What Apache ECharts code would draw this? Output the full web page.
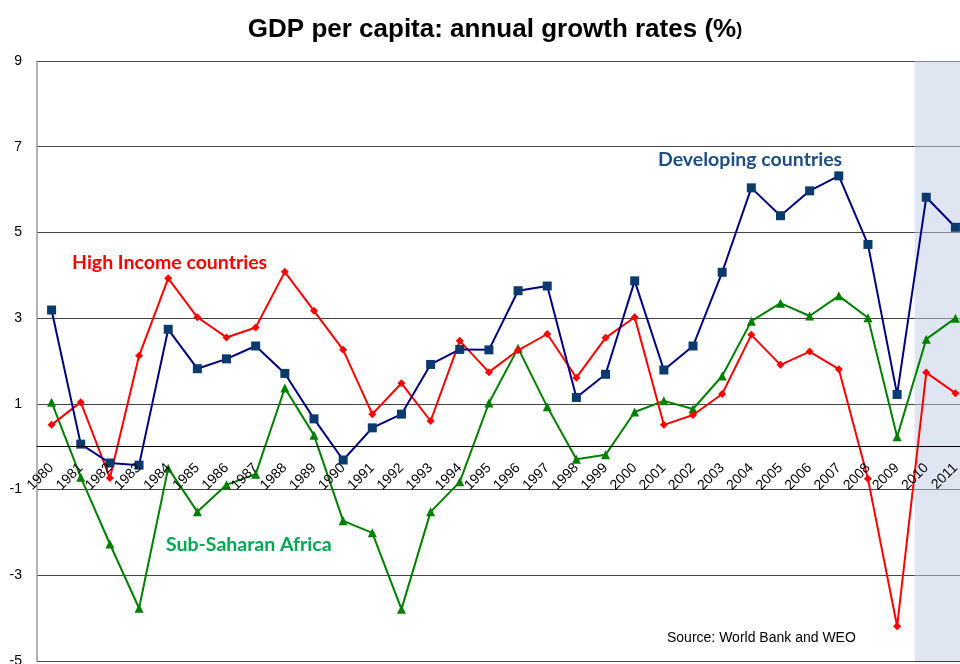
<!DOCTYPE html>
<html>
<head>
<meta charset="utf-8">
<title>GDP per capita: annual growth rates (%)</title>
<script src="https://cdn.jsdelivr.net/npm/echarts@6/dist/echarts.min.js"></script>
<style>
  html, body { margin: 0; padding: 0; background: #fff; }
  #chart { width: 960px; height: 664px; }
</style>
</head>
<body>
<div id="chart"></div>
<script>
// Years on the category axis
const years = ['1980','1981','1982','1983','1984','1985','1986','1987','1988','1989',
  '1990','1991','1992','1993','1994','1995','1996','1997','1998','1999',
  '2000','2001','2002','2003','2004','2005','2006','2007','2008','2009',
  '2010','2011'];

// Annual GDP per capita growth (%)
const developing = [3.19, 0.06, -0.38, -0.43, 2.74, 1.82, 2.05, 2.35, 1.71, 0.65,
  -0.31, 0.44, 0.76, 1.92, 2.27, 2.26, 3.64, 3.75, 1.15, 1.69,
  3.87, 1.79, 2.35, 4.07, 6.04, 5.39, 5.97, 6.32, 4.72, 1.22,
  5.82, 5.12];

const highIncome = [0.51, 1.04, -0.73, 2.12, 3.93, 3.02, 2.55, 2.78, 4.08, 3.17,
  2.26, 0.76, 1.48, 0.60, 2.47, 1.74, 2.25, 2.63, 1.61, 2.54,
  3.02, 0.51, 0.74, 1.23, 2.61, 1.91, 2.22, 1.81, -0.75, -4.19,
  1.73, 1.25];

const subSaharan = [1.04, -0.71, -2.27, -3.77, -0.50, -1.52, -0.89, -0.64, 1.37, 0.27,
  -1.73, -2.01, -3.79, -1.52, -0.82, 1.02, 2.30, 0.93, -0.29, -0.19,
  0.81, 1.07, 0.88, 1.65, 2.93, 3.35, 3.05, 3.52, 3.01, 0.23,
  2.51, 3.00];

// Value axis range
const yMin = -5, yMax = 9, yStep = 2;

// Projection period shading, in category-index units
const projectionSpan = [29.6, 31.5];

const chart = echarts.init(document.getElementById('chart'), null, { renderer: 'canvas' });

const baseFont = 'Liberation Sans, Arial, sans-serif';
const labelFont = 'Lato, "Open Sans", sans-serif';

const gridHeight = 600;
// Lift the year axis from the grid bottom up to the zero line
const zeroOffset = -gridHeight * (0 - yMin) / (yMax - yMin);

chart.setOption({
  animation: false,
  backgroundColor: '#ffffff',
  title: {
    text: 'GDP per capita: annual growth rates (%{s|)}',
    left: 490,
    textAlign: 'center',
    top: 12,
    textStyle: {
      fontFamily: baseFont,
      fontSize: 26,
      fontWeight: 'bold',
      color: '#000',
      rich: {
        s: { fontFamily: baseFont, fontSize: 18, fontWeight: 'bold', color: '#000' }
      }
    }
  },
  grid: {
    left: 37, top: 61, width: 933, height: gridHeight,
    containLabel: false,
    outerBoundsMode: 'none'
  },
  xAxis: [
    {
      type: 'category',
      data: years,
      boundaryGap: true,
      position: 'bottom',
      offset: zeroOffset,
      z: 10,
      axisLine: { show: true, onZero: false, lineStyle: { color: '#000', width: 1 } },
      axisTick: { show: false },
      axisLabel: {
        rotate: 45,
        margin: 19,
        interval: 0,
        fontFamily: baseFont,
        fontSize: 14,
        color: '#000'
      },
      splitLine: { show: false }
    },
    {
      type: 'value',
      min: -0.5,
      max: 31.5,
      show: false
    }
  ],
  yAxis: {
    type: 'value',
    min: yMin,
    max: yMax,
    interval: yStep,
    axisLine: { show: true, onZero: false, lineStyle: { color: '#999', width: 1.5 } },
    axisTick: { show: false },
    axisLabel: {
      margin: 15,
      fontFamily: baseFont,
      fontSize: 14,
      color: '#000'
    },
    splitLine: { show: true, lineStyle: { color: '#444', width: 1 } }
  },
  graphic: [
    {
      type: 'text', left: 658, top: 150,
      style: { text: 'Developing countries', fill: '#1f4e87', font: 'bold 19.5px ' + labelFont }
    },
    {
      type: 'text', left: 72, top: 253,
      style: { text: 'High Income countries', fill: '#ff0000', font: 'bold 19.5px ' + labelFont }
    },
    {
      type: 'text', left: 166, top: 535,
      style: { text: 'Sub-Saharan Africa', fill: '#00a84f', font: 'bold 19.5px ' + labelFont }
    },
    {
      type: 'text', left: 667, top: 631,
      style: { text: 'Source: World Bank and WEO', fill: '#000', font: '14px ' + baseFont }
    }
  ],
  series: [
    {
      name: 'Projection',
      type: 'line',
      xAxisIndex: 1,
      data: [],
      silent: true,
      markArea: {
        silent: true,
        itemStyle: { color: 'rgba(191,205,227,0.5)' },
        data: [[{ xAxis: projectionSpan[0] }, { xAxis: projectionSpan[1] }]]
      }
    },
    {
      name: 'Sub-Saharan Africa',
      type: 'line',
      data: subSaharan,
      symbol: 'triangle',
      symbolSize: 9,
      lineStyle: { color: '#008000', width: 2 },
      itemStyle: { color: '#008000' },
      z: 3
    },
    {
      name: 'High Income countries',
      type: 'line',
      data: highIncome,
      symbol: 'diamond',
      symbolSize: 8,
      lineStyle: { color: '#ff0000', width: 2 },
      itemStyle: { color: '#ff0000' },
      z: 4
    },
    {
      name: 'Developing countries',
      type: 'line',
      data: developing,
      symbol: 'rect',
      symbolSize: 9,
      lineStyle: { color: '#000080', width: 2 },
      itemStyle: { color: '#0b3a6e' },
      z: 5
    }
  ]
});
</script>
</body>
</html>
